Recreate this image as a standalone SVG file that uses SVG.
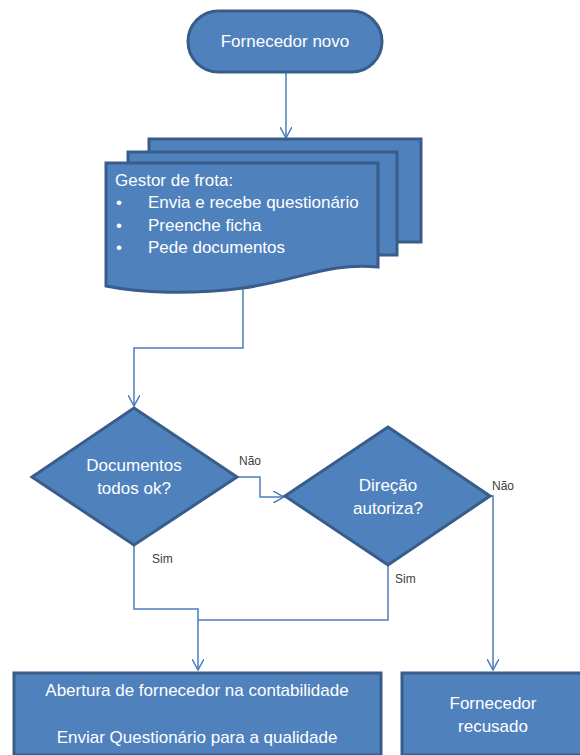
<svg xmlns="http://www.w3.org/2000/svg" width="580" height="755" viewBox="0 0 580 755">
<style>
.shape{fill:#4F81BD;stroke:#385D8A;stroke-width:3}
.t{font-family:"Liberation Sans",Arial,sans-serif;font-size:17px;fill:#FFFFFF}
.c{fill:none;stroke:#4A7EBB;stroke-width:1.5}
.lbl{font-family:"Liberation Sans",Arial,sans-serif;font-size:12px;fill:#404040}
</style>
<defs>
<marker id="arr" viewBox="0 0 12 12" refX="11" refY="6" markerWidth="12" markerHeight="12" markerUnits="userSpaceOnUse" orient="auto">
<path d="M0,0 L11,6 L0,12" fill="none" stroke="#4A7EBB" stroke-width="1.5"/>
</marker>
</defs>
<rect width="580" height="755" fill="#FFFFFF"/>
<g id="connectors">
<path class="c" d="M286,73 L286,138" marker-end="url(#arr)"/>
<path class="c" d="M243,288 L243,348 L134,348 L134,406" marker-end="url(#arr)"/>
<path class="c" d="M237,477 L260,477 L260,497 L284,497" marker-end="url(#arr)"/>
<path class="c" d="M134,545 L134,609 L198,609 L198,670" marker-end="url(#arr)"/>
<path class="c" d="M388,565 L388,620 L198,620"/>
<path class="c" d="M491,496 L493,496 L493,670" marker-end="url(#arr)"/>
<text class="lbl" x="239" y="465">Não</text>
<text class="lbl" x="492" y="490">Não</text>
<text class="lbl" x="152" y="563">Sim</text>
<text class="lbl" x="395" y="583">Sim</text>
</g>
<g id="start">
<rect class="shape" x="188" y="11" width="194" height="61" rx="30.5"/>
<text class="t" x="285" y="47" text-anchor="middle">Fornecedor novo</text>
</g>
<g id="gestor">
<rect class="shape" x="149" y="139" width="272" height="103"/>
<rect class="shape" x="128" y="152" width="269" height="103"/>
<path class="shape" d="M106,163 L378,163 L378,267 C330,262 300,280 243,288 C190,295 140,293 106,286 Z"/>
<text class="t" x="115" y="186">Gestor de frota:</text>
<text class="t" x="116" y="208">•</text>
<text class="t" x="148" y="208">Envia e recebe questionário</text>
<text class="t" x="116" y="231">•</text>
<text class="t" x="148" y="231">Preenche ficha</text>
<text class="t" x="116" y="253">•</text>
<text class="t" x="148" y="253">Pede documentos</text>
</g>
<g id="docs-ok">
<path class="shape" d="M134,408 L237,477 L134,545 L32,477 Z"/>
<text class="t" x="134" y="471" text-anchor="middle">Documentos</text>
<text class="t" x="134" y="494" text-anchor="middle">todos ok?</text>
</g>
<g id="direcao">
<path class="shape" d="M388,427 L490,496 L388,565 L285,496 Z"/>
<text class="t" x="388" y="491" text-anchor="middle">Direção</text>
<text class="t" x="388" y="514" text-anchor="middle">autoriza?</text>
</g>
<g id="abertura">
<rect class="shape" x="14" y="673" width="367" height="82"/>
<text class="t" x="197" y="696" text-anchor="middle">Abertura de fornecedor na contabilidade</text>
<text class="t" x="197" y="743" text-anchor="middle">Enviar Questionário para a qualidade</text>
</g>
<g id="recusado">
<rect class="shape" x="402" y="673" width="183" height="82"/>
<text class="t" x="493" y="709" text-anchor="middle">Fornecedor</text>
<text class="t" x="493" y="732" text-anchor="middle">recusado</text>
</g>
</svg>
